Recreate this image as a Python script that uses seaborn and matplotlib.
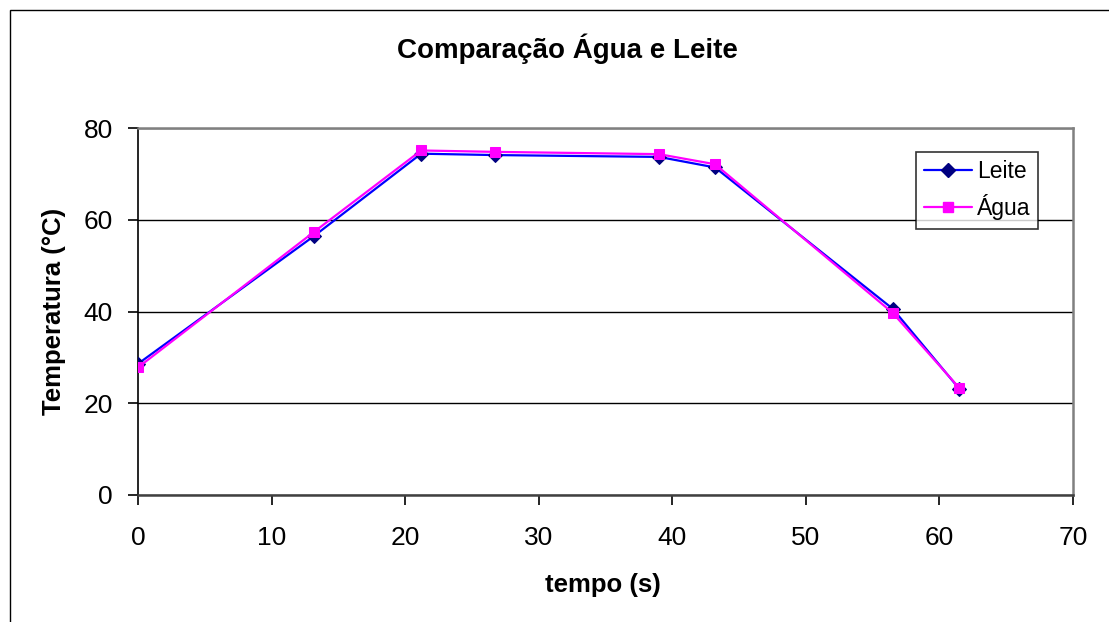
import matplotlib
matplotlib.use("Agg")
import matplotlib.pyplot as plt
import seaborn as sns
import pandas as pd
from matplotlib.patches import Rectangle
from matplotlib.lines import Line2D

tempo = [0, 13.2, 21.2, 26.7, 39.0, 43.2, 56.5, 61.5]
leite = [28.6, 56.5, 74.4, 74.1, 73.7, 71.4, 40.6, 23.1]
agua = [27.8, 57.4, 75.1, 74.8, 74.3, 72.1, 39.7, 23.3]
x_ticks = [0, 10, 20, 30, 40, 50, 60, 70]
y_ticks = [0, 20, 40, 60, 80]

sns.set_theme(style="white")
plt.rcParams['font.family'] = ['Liberation Sans', 'DejaVu Sans']
for k in ["text.color", "axes.labelcolor", "xtick.color", "ytick.color"]:
    plt.rcParams[k] = "black"

W, H = 1109, 622
fig = plt.figure(figsize=(W / 100, H / 100), dpi=100)
fig.patch.set_facecolor("white")
ax = fig.add_axes([138 / W, 1 - 495 / H, (1073 - 138) / W, (495 - 128) / H])

df_l = pd.DataFrame({"tempo": tempo, "temp": leite})
df_a = pd.DataFrame({"tempo": tempo, "temp": agua})
sns.lineplot(data=df_l, x="tempo", y="temp", ax=ax, color="#0000FF", lw=1.6,
             marker="D", markersize=7, markerfacecolor="#000080",
             markeredgecolor="#000080", label="Leite", zorder=3)
sns.lineplot(data=df_a, x="tempo", y="temp", ax=ax, color="#FF00FF", lw=1.6,
             marker="s", markersize=7.5, markerfacecolor="#FF00FF",
             markeredgecolor="#FF00FF", label="Água", zorder=4)

ax.set_xlim(0, 70)
ax.set_ylim(0, 80)
ax.set_xticks(x_ticks)
ax.set_yticks(y_ticks)
ax.set_xticklabels([str(t) for t in x_ticks], fontsize=19)
ax.set_yticklabels([str(t) for t in y_ticks], fontsize=19)
ax.tick_params(axis="both", direction="out", length=7, width=1.2, color="black",
               left=True, bottom=True)
ax.tick_params(axis="x", pad=15)
ax.tick_params(axis="y", pad=11)
ax.yaxis.grid(True, color="black", lw=1)
ax.xaxis.grid(False)
ax.set_axisbelow(True)
for side in ["top", "right"]:
    ax.spines[side].set_color("#808080")
    ax.spines[side].set_linewidth(1.8)
ax.spines["left"].set_color("black")
ax.spines["bottom"].set_color("#404040")
ax.spines["left"].set_linewidth(1.2)
ax.spines["bottom"].set_linewidth(1.8)

ax.set_xlabel("tempo (s)", fontsize=18.5, fontweight="bold")
ax.set_ylabel("Temperatura (°C)", fontsize=18.5, fontweight="bold")
ax.xaxis.set_label_coords((603 - 138) / (1073 - 138), -(585 - 495) / (495 - 128))
ax.yaxis.set_label_coords(-(138 - 54) / (1073 - 138), 0.5)
ax.xaxis.label.set_va("center")
ax.yaxis.label.set_va("center")

fig.text(567 / W, 1 - 49 / H, "Comparação Água e Leite", fontsize=20,
         fontweight="bold", ha="center", va="center")

handles = [
    Line2D([], [], color="#0000FF", lw=1.6, marker="D", markersize=7,
           markerfacecolor="#000080", markeredgecolor="#000080"),
    Line2D([], [], color="#FF00FF", lw=1.6, marker="s", markersize=7.5,
           markerfacecolor="#FF00FF", markeredgecolor="#FF00FF"),
]
leg = ax.legend(handles, ["Leite", "Água"], loc="upper left",
                bbox_to_anchor=((916 - 138) / (1073 - 138), 1 - (152 - 128) / (495 - 128)),
                fontsize=16.5, frameon=True, fancybox=False, handlelength=2.1,
                handletextpad=0.2, borderpad=0.35, labelspacing=0.5, borderaxespad=0)
leg.get_frame().set_edgecolor("black")
leg.get_frame().set_linewidth(1.2)

fig.add_artist(Rectangle((10 / W, -0.05), 1.2, 1 - 10 / H + 0.05,
                         transform=fig.transFigure, fill=False,
                         edgecolor="black", lw=1))

fig.savefig("out.png", dpi=100)
